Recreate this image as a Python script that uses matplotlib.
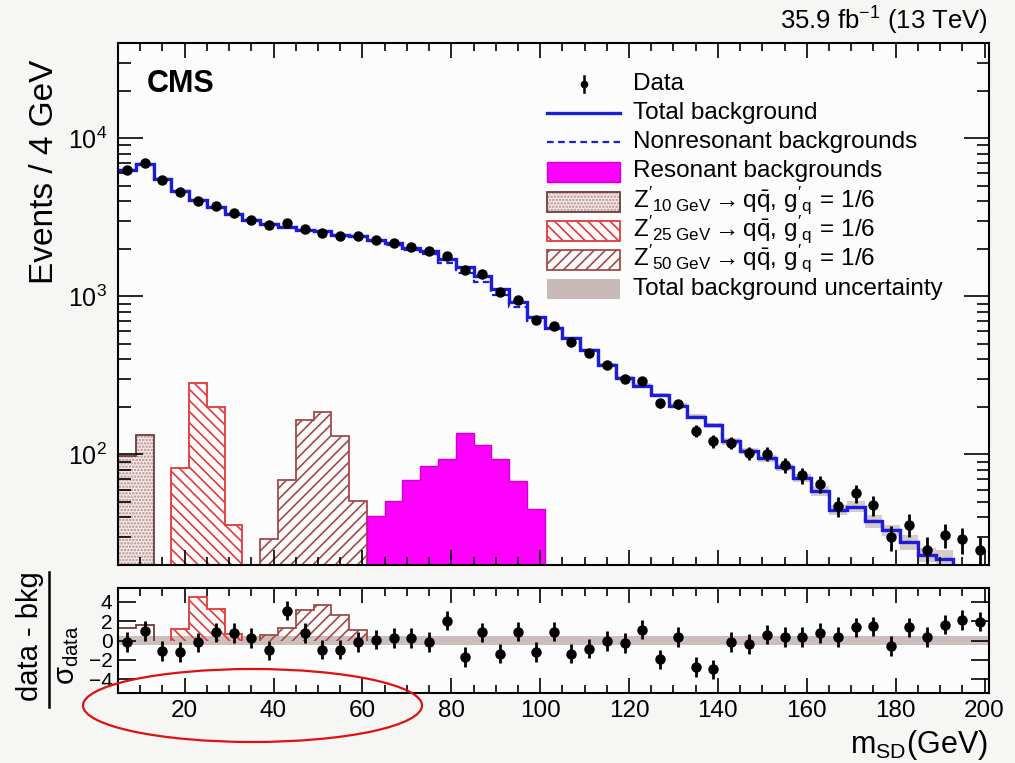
import matplotlib
matplotlib.use("Agg")
import matplotlib.pyplot as plt
import numpy as np
from matplotlib.patches import Rectangle, Ellipse
from matplotlib.lines import Line2D
from matplotlib.ticker import MultipleLocator, LogLocator, NullFormatter

plt.rcParams['font.family'] = ['Liberation Sans', 'DejaVu Sans']
plt.rcParams['mathtext.fontset'] = 'custom'
plt.rcParams['mathtext.rm'] = 'Liberation Sans'
plt.rcParams['mathtext.it'] = 'Liberation Sans:italic'
plt.rcParams['mathtext.bf'] = 'Liberation Sans:bold'
plt.rcParams['hatch.linewidth'] = 1.2

# soft-drop mass bins: 4 GeV wide, 5 -> 201 GeV
bin_lo = 5
bin_width = 4
n_bins = 49

# observed events per bin
data = [6300, 6950, 5450, 4560, 4035, 3700, 3357, 3048, 2833, 2905,
        2673, 2531, 2411, 2411, 2275, 2188, 2046, 1930, 1803, 1472,
        1382, 1072, 950, 710, 650, 511, 437, 369, 301, 292,
        211, 208, 141, 121, 119, 102, 101, 86, 74, 65,
        47, 57, 48, 30, 36, 25, 31, 29, 25]

# (data - bkg) / sigma_data per bin
pull = [-0.17, 1.0, -1.1, -1.2, -0.2, 0.85, 0.75, 0.27, -1.0, 3.06,
        0.75, -0.95, -0.95, -0.17, 0.1, 0.24, 0.24, -0.17, 2.04, -1.7,
        0.85, -1.36, 0.9, -1.2, 0.9, -1.36, -0.85, -0.07, -0.27, 1.12,
        -1.94, 0.34, -2.72, -2.96, -0.17, -0.34, 0.61, 0.34, 0.34, 0.75,
        0.34, 1.36, 1.46, -0.58, 1.36, 0.34, 1.63, 2.11, 1.94]

# total background uncertainty, in units of sigma_data
unc_sigma = 0.5

# resonant backgrounds (W/Z + jets, ttbar), 61 -> 101 GeV
resonant_lo = 61
resonant = [40.6, 50.5, 69.2, 84, 94, 136, 114, 94, 67.5, 45.2]

# Z' signal templates
z10_lo = 5
z10 = [98, 132]
z25_lo = 17
z25 = [82, 284, 200, 36]
z50_lo = 37
z50 = [29, 69, 164, 185, 130, 51]

W, H = 1015, 763


def fx(px):
    return px / W


def fy(py):
    return 1 - py / H


def sub_edges(lo, vals):
    return lo + bin_width * np.arange(len(vals) + 1)


def sub_index(lo):
    return (lo - bin_lo) // bin_width


edges = bin_lo + bin_width * np.arange(n_bins + 1)
centers = 0.5 * (edges[:-1] + edges[1:])
data = np.array(data, dtype=float)
pull = np.array(pull)
err = np.sqrt(data)
bkg = data - pull * err
nonres = bkg.copy()
i0 = sub_index(resonant_lo)
nonres[i0:i0 + len(resonant)] -= np.array(resonant)

blue = '#1c1cdc'
magenta = '#ff00ff'
red = '#e23a3a'
brown = '#a34a48'
dark_brown = '#6e3b3b'
unc_col = '#bcaaa8'

fig = plt.figure(figsize=(W / 100, H / 100), dpi=100)
fig.patch.set_facecolor('#f6f6f4')

ax = fig.add_axes([fx(118), fy(565), fx(989) - fx(118), fy(43) - fy(565)])
rax = fig.add_axes([fx(118), fy(693), fx(989) - fx(118), fy(588) - fy(693)])
for a in (ax, rax):
    a.set_facecolor('#fcfcfc')
    for s in a.spines.values():
        s.set_linewidth(1.5)

# ---- main panel ----
ax.set_yscale('log')
ax.stairs(bkg + unc_sigma * err, edges, baseline=bkg - unc_sigma * err,
          fill=True, color=unc_col, alpha=0.6, lw=0)
ax.stairs(nonres, edges, baseline=None, color=blue, lw=1.6, ls=(0, (3, 2)))
ax.stairs(bkg, edges, baseline=None, color=blue, lw=2.4)

# Z' 10 GeV: dotted fill plus outline
e10 = sub_edges(z10_lo, z10)
ax.stairs(z10, e10, baseline=1, fill=True, facecolor='#f4ebea',
          edgecolor='#b48c8a', hatch='.....', lw=0)
ax.stairs(z10, e10, baseline=1, fill=True, facecolor='none',
          edgecolor=dark_brown, lw=1.3)
ax.stairs(z25, sub_edges(z25_lo, z25), baseline=1, fill=True,
          facecolor='none', edgecolor=red, hatch='\\\\\\', lw=1.3)
ax.stairs(z50, sub_edges(z50_lo, z50), baseline=1, fill=True,
          facecolor='none', edgecolor=brown, hatch='///', lw=1.3)
ax.stairs(resonant, sub_edges(resonant_lo, resonant), baseline=1, fill=True,
          facecolor=magenta, edgecolor='#d000d0', lw=1)

ax.errorbar(centers, data, yerr=err, fmt='o', color='black', ms=6.5,
            elinewidth=2, capsize=0, zorder=5)

ax.set_xlim(edges[0], edges[-1])
ax.set_ylim(20, 4e4)
ax.xaxis.set_major_locator(MultipleLocator(20))
ax.xaxis.set_minor_locator(MultipleLocator(5))
ax.yaxis.set_major_locator(LogLocator(base=10))
ax.yaxis.set_minor_locator(LogLocator(base=10, subs=np.arange(2, 10)))
ax.yaxis.set_minor_formatter(NullFormatter())
ax.tick_params(axis='both', which='both', direction='in', top=True, right=True, width=1.2)
ax.tick_params(axis='x', which='major', length=11, labelbottom=False)
ax.tick_params(axis='x', which='minor', length=6)
ax.tick_params(axis='y', which='major', length=18, labelsize=18, pad=8)
ax.tick_params(axis='y', which='minor', length=9)

# ---- pull panel ----
rax.stairs(np.full(n_bins, unc_sigma), edges, baseline=-unc_sigma, fill=True,
           color=unc_col, alpha=0.75, lw=0)
rax.stairs(np.array(z10) / err[sub_index(z10_lo):sub_index(z10_lo) + len(z10)],
           e10, fill=True, facecolor='none', edgecolor=dark_brown, lw=1.3)
rax.stairs(np.array(z25) / err[sub_index(z25_lo):sub_index(z25_lo) + len(z25)],
           sub_edges(z25_lo, z25), fill=True, facecolor='none',
           edgecolor=red, hatch='\\\\\\', lw=1.3)
rax.stairs(np.array(z50) / err[sub_index(z50_lo):sub_index(z50_lo) + len(z50)],
           sub_edges(z50_lo, z50), fill=True, facecolor='none',
           edgecolor=brown, hatch='///', lw=1.3)
rax.errorbar(centers, pull, yerr=1.0, fmt='o', color='black', ms=6.5,
             elinewidth=2, capsize=0, zorder=5)

rax.set_xlim(edges[0], edges[-1])
rax.set_ylim(-5.4, 5.4)
rax.xaxis.set_major_locator(MultipleLocator(20))
rax.xaxis.set_minor_locator(MultipleLocator(5))
rax.yaxis.set_major_locator(MultipleLocator(2))
rax.tick_params(axis='both', which='both', direction='in', top=True, right=True, width=1.2)
rax.tick_params(axis='x', which='major', length=11, labelsize=17.5, pad=5)
rax.tick_params(axis='x', which='minor', length=6)
rax.tick_params(axis='y', which='major', length=13, labelsize=15, pad=4)

# ---- labels ----
fig.text(fx(45), fy(60), 'Events / 4 GeV', rotation=90, fontsize=24,
         ha='center', va='top')
fig.text(fx(30), fy(636), 'data - bkg', rotation=90, fontsize=21,
         ha='center', va='center')
fig.add_artist(Line2D([fx(48.5), fx(48.5)], [fy(572), fy(707)],
                      color='black', lw=1.8, transform=fig.transFigure))
fig.text(fx(67), fy(655), r'σ$_{\rm data}$', rotation=90, fontsize=21,
         ha='center', va='center')
fig.text(fx(988), fy(753), r'm$_{\rm SD}$(GeV)', fontsize=22,
         ha='right', va='baseline')
fig.text(fx(988), fy(30), r'35.9 fb$^{-1}$ (13 TeV)', fontsize=18.5,
         ha='right', va='baseline')
fig.text(fx(147), fy(92), 'CMS', fontsize=22, fontweight='bold', va='baseline')

# ---- legend ----
hx0, hx1 = 547, 620
rows = [84.3, 113.3, 142.3, 172, 201.5, 230.8, 260, 289.3]
tf = fig.transFigure


def box(row, **kw):
    r = Rectangle((fx(hx0), fy(row + 10)), fx(hx1) - fx(hx0), fy(row - 10) - fy(row + 10),
                  transform=tf, **kw)
    fig.add_artist(r)


fig.add_artist(Line2D([fx(583.5), fx(583.5)], [fy(rows[0] - 8), fy(rows[0] + 8)],
                      color='black', lw=1.8, transform=tf))
fig.add_artist(Line2D([fx(583.5)], [fy(rows[0])], marker='o', ms=4.5,
                      color='black', transform=tf))
fig.add_artist(Line2D([fx(hx0), fx(hx1)], [fy(rows[1])] * 2, color=blue,
                      lw=2.4, transform=tf))
fig.add_artist(Line2D([fx(hx0), fx(hx1)], [fy(rows[2])] * 2, color=blue,
                      lw=1.6, ls=(0, (3, 2)), transform=tf))
box(rows[3], facecolor=magenta, edgecolor='#d000d0', lw=1)
box(rows[4], facecolor='#f4ebea', edgecolor='#b48c8a', hatch='.....', lw=0)
box(rows[4], facecolor='none', edgecolor=dark_brown, lw=1.3)
box(rows[5], facecolor='none', edgecolor=red, hatch='\\\\\\', lw=1.3)
box(rows[6], facecolor='none', edgecolor=brown, hatch='///', lw=1.3)
box(rows[7], facecolor=unc_col, edgecolor='none', alpha=0.8)

zlab = r"$\mathrm{Z'_{%s\ GeV} \rightarrow q\bar{q},\,g'_{q}\,=\,1/6}$"
labels = ['Data', 'Total background', 'Nonresonant backgrounds',
          'Resonant backgrounds', zlab % '10', zlab % '25', zlab % '50',
          'Total background uncertainty']
for row, lab in zip(rows, labels):
    fig.text(fx(633), fy(row + 5.5), lab, fontsize=17.5, va='baseline')

fig.add_artist(Ellipse((fx(252.5), fy(705.5)), 339 / W, 73 / H, transform=tf,
                       fill=False, edgecolor='#e01010', lw=1.6))

fig.savefig('out.png', dpi=100, facecolor=fig.get_facecolor())
